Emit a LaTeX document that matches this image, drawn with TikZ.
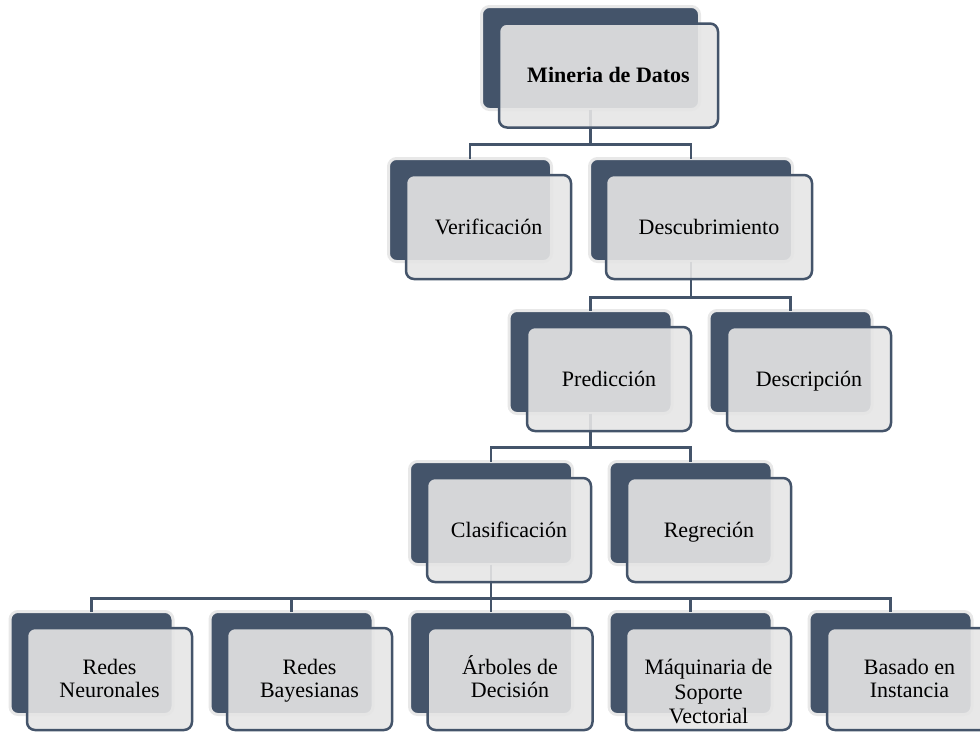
\documentclass[tikz,border=0pt]{standalone}
\usepackage{fontspec}
\setmainfont{Liberation Serif}
\definecolor{dk}{HTML}{44546A}
\definecolor{halo}{HTML}{E8E8E8}
\definecolor{frontfill}{HTML}{E5E5E5}
\newcommand\topst{\rule{0pt}{19.6pt}}
\newcommand\botst{\rule[-4.7pt]{0pt}{4.7pt}}
\tikzset{
  backbox/.style={rectangle, fill=dk, draw=halo, line width=3pt, rounded corners=8pt,
    inner sep=0pt, outer sep=0pt, minimum width=163pt, minimum height=103pt},
  frontbox/.style={rectangle, fill=frontfill, fill opacity=0.9, draw=dk, line width=2.5pt,
    rounded corners=8pt, inner sep=0pt, outer sep=0pt, minimum width=165pt, minimum height=104pt},
  conn/.style={draw=dk, line width=2.5pt},
  txt/.style={font=\fontsize{22}{23}\selectfont, align=center, inner sep=0pt, text=black}
}
\begin{document}
\begin{tikzpicture}[x=1pt,y=-1pt]
\useasboundingbox (0,0) rectangle (980,732);
\clip (0,0) rectangle (980,732);
% back boxes
\node[backbox, minimum width=218pt] (bM) at (590.5,58) {};
\node[backbox] (bV) at (470,210) {};
\node[backbox, minimum width=203pt] (bD) at (691,210) {};
\node[backbox] (bP) at (590.5,362) {};
\node[backbox] (bDe) at (790.5,362) {};
\node[backbox] (bC) at (491,513) {};
\node[backbox] (bR) at (690.5,513) {};
\node[backbox] (b1) at (91.5,663) {};
\node[backbox] (b2) at (291.5,663) {};
\node[backbox] (b3) at (491,663) {};
\node[backbox] (b4) at (690.5,663) {};
\node[backbox] (b5) at (890.5,663) {};
% connectors
\draw[conn] (bM.south) -- ++(0,35) coordinate (jM) -| (bV.north);
\draw[conn] (jM) -| (bD.north);
\draw[conn] (bD.south) -- ++(0,36) coordinate (jD) -| (bP.north);
\draw[conn] (jD) -| (bDe.north);
\draw[conn] (bP.south) -- ++(0,34) coordinate (jP) -| (bC.north);
\draw[conn] (jP) -| (bR.north);
\draw[conn] (bC.south) -- ++(0,34) coordinate (jC) -| (b1.north);
\draw[conn] (jC) -| (b2.north);
\draw[conn] (jC) -- (b3.north);
\draw[conn] (jC) -| (b4.north);
\draw[conn] (jC) -| (b5.north);
% front boxes
\node[frontbox, minimum width=219pt] (fM) at (608.5,75.5) {};
\node[frontbox] (fV) at (488.5,227) {};
\node[frontbox, minimum width=206pt] (fD) at (709,227) {};
\node[frontbox, minimum width=164pt] (fP) at (609,379) {};
\node[frontbox, minimum width=164pt] (fDe) at (809,379) {};
\node[frontbox, minimum width=164pt] (fC) at (509,530) {};
\node[frontbox, minimum width=164pt] (fR) at (709,530) {};
\node[frontbox, minimum height=102pt] (f1) at (109.5,679) {};
\node[frontbox, minimum height=102pt] (f2) at (309.5,679) {};
\node[frontbox, minimum height=102pt] (f3) at (510,679) {};
\node[frontbox, minimum height=102pt] (f4) at (708.5,679) {};
\node[frontbox, minimum height=102pt] (f5) at (909.5,679) {};
% texts
\node[txt] (tM) at (fM.center) {\topst\textbf{Mineria de Datos}\botst};
\node[txt] (tV) at (fV.center) {\topst Verificación\botst};
\node[txt] (tD) at (fD.center) {\topst Descubrimiento\botst};
\node[txt] (tP) at (fP.center) {\topst Predicción\botst};
\node[txt] (tDe) at (fDe.center) {\topst Descripción\botst};
\node[txt] (tC) at (fC.center) {\topst Clasificación\botst};
\node[txt] (tR) at (fR.center) {\topst Regreción\botst};
\node[txt] (t1) at (f1.center) {\topst Redes\\Neuronales\botst};
\node[txt] (t2) at (f2.center) {\topst Redes\\Bayesianas\botst};
\node[txt] (t3) at (f3.center) {\topst Árboles de\\Decisión\botst};
\node[txt, font=\fontsize{22}{24.5}\selectfont] (t4) at (708.5,692) {\topst Máquinaria de\\Soporte\\Vectorial\botst};
\node[txt] (t5) at (f5.center) {\topst Basado en\\Instancia\botst};
\end{tikzpicture}
\end{document}
